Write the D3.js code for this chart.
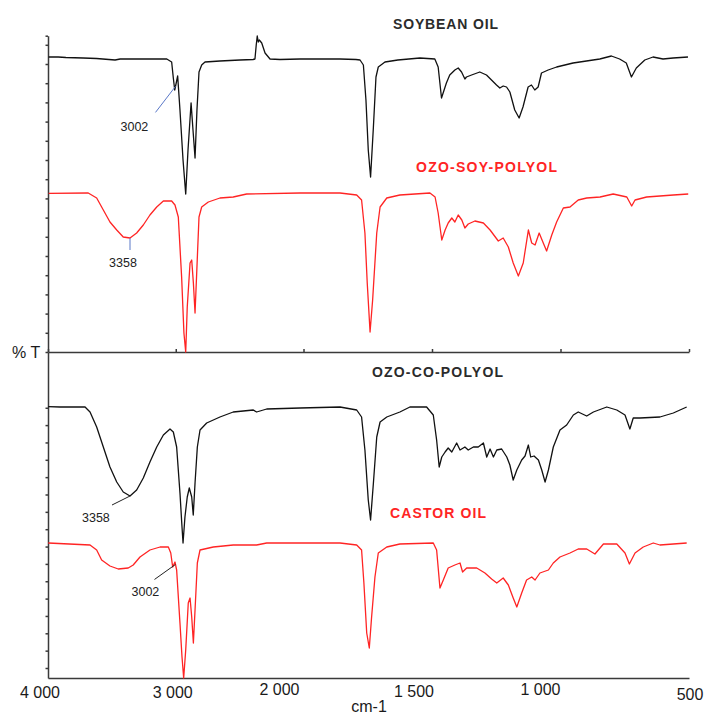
<!DOCTYPE html>
<html><head><meta charset="utf-8">
<script src="https://cdn.jsdelivr.net/npm/d3@7"></script>
<style>
body{margin:0;background:#fff}
svg{display:block;background:#fff}
text{font-family:"Liberation Sans",Arial,sans-serif}
</style>
</head><body>
<svg id="chart" width="708" height="716"></svg>
<script>
// ---------- DATA ----------
const xTickValues = [4000, 3000, 2000, 1500, 1000, 500];
const xTickLabels = ["4 000", "3 000", "2 000", "1 500", "1 000", "500"];
const xAxisTitle = "cm-1";
const yAxisTitle = "% T";
const seriesNames = ["SOYBEAN OIL", "OZO-SOY-POLYOL", "OZO-CO-POLYOL", "CASTOR OIL"];

// [wavenumber (cm-1), transmittance (a.u., offset within its panel)]
const soybeanOil = [
 [3995,295],[3920,295],[3860,294.5],[3725,294],[3620,293.5],[3475,292],[3435,293],[3070,293],
 [3032,290],[3019,274],[3008,262],[2998,268],[2985,276],[2967,242],[2943,192],[2922,158],
 [2904,202],[2880,249],[2865,222],[2849,194],[2834,242],[2818,280],[2797,287],[2771,290],
 [2654,291],[2497,292],[2395,292.5],[2380,293],[2370,307],[2362,316],[2354,310],[2346,312],
 [2327,309],[2301,299],[2262,293],[2184,292.5],[2027,293],[1858,293],[1796,292.5],[1780,292],
 [1767,287],[1757,252],[1748,202],[1739,175],[1728,225],[1718,275],[1709,285],[1683,290],
 [1633,292],[1547,294],[1489,293],[1476,285],[1463,254],[1444,269],[1431,277],[1411,282],
 [1398,284],[1385,280],[1372,273],[1366,275],[1346,277],[1314,280],[1288,277],[1249,267],
 [1236,264],[1223,266],[1210,265],[1197,260],[1178,242],[1161,234],[1146,245],[1126,265],
 [1113,267],[1100,262],[1087,265],[1074,279],[1048,282],[1015,285],[951,289],[899,291],
 [847,293],[802,296],[770,293],[744,289],[724,275],[705,284],[672,292],[640,295],[601,293],
 [562,294],[504,295]
];
const ozoSoyPolyol = [
 [3995,158.7],[3685,159],[3619,154],[3567,142],[3515,130],[3462,122],[3411,115],[3358,114],
 [3306,119],[3254,127],[3202,137],[3149,145],[3097,151],[3032,151],[3006,147],[2980,135],
 [2954,75],[2936,19],[2922,0],[2910,45],[2888,89],[2875,92],[2862,69],[2849,39],[2836,79],
 [2818,135],[2797,145],[2745,150],[2654,154],[2550,155],[2445,158],[2027,159],[1858,159],
 [1793,157],[1774,152],[1761,119],[1752,69],[1741,20],[1731,52],[1715,119],[1702,145],
 [1676,154],[1625,157],[1508,159],[1488,155],[1476,139],[1462,112],[1449,122],[1437,129],
 [1423,134],[1411,130],[1398,137],[1384,132],[1372,124],[1359,128],[1333,131],[1300,129],
 [1274,122],[1242,111],[1223,114],[1203,105],[1184,89],[1164,76],[1145,89],[1125,122],
 [1112,109],[1099,107],[1083,119],[1067,109],[1054,101],[1034,117],[1015,130],[989,144],
 [963,145],[931,152],[898,154],[846,155],[795,158],[742,155],[723,146],[710,152],[665,155],
 [561,157],[503,158]
];
const ozoCoPolyol = [
 [3998,271.3],[3906,271],[3710,271],[3671,266],[3619,251],[3567,231],[3515,211],[3462,196],
 [3411,186],[3358,182],[3306,188],[3254,200],[3202,216],[3149,231],[3097,243],[3045,249],
 [3019,246],[2993,231],[2967,185],[2953,155],[2943,135],[2928,161],[2910,181],[2894,190],
 [2875,181],[2863,163],[2849,195],[2831,231],[2810,248],[2758,255],[2654,261],[2550,266],
 [2393,268],[2367,266],[2288,269],[2027,270],[1858,271],[1793,268],[1774,261],[1761,228],
 [1748,178],[1739,158],[1728,195],[1715,241],[1702,256],[1676,261],[1625,266],[1586,271],
 [1521,271],[1495,263],[1482,238],[1472,211],[1462,221],[1449,226],[1437,230],[1423,226],
 [1404,235],[1391,228],[1372,231],[1359,228],[1339,231],[1320,231],[1300,235],[1287,221],
 [1274,229],[1261,221],[1248,228],[1229,229],[1209,221],[1197,213],[1184,198],[1170,208],
 [1151,218],[1138,222],[1125,233],[1116,221],[1103,222],[1086,218],[1073,208],[1060,196],
 [1047,208],[1028,231],[1002,248],[976,253],[950,263],[931,266],[898,262],[872,266],
 [820,271],[781,268],[749,263],[730,249],[717,260],[691,260],[613,261],[561,265],[509,271]
];
const castorOil = [
 [3998,135],[3671,133],[3619,128],[3580,118],[3515,112],[3450,109],[3372,110],[3333,113],
 [3280,121],[3202,128],[3123,131],[3058,131],[3039,125],[3024,111],[3006,116],[2993,108],
 [2967,55],[2951,21],[2938,0],[2922,28],[2902,75],[2888,80],[2875,61],[2862,35],[2849,68],
 [2831,115],[2810,128],[2706,131],[2550,133],[2367,133],[2288,135],[1858,135],[1793,133],
 [1774,128],[1765,95],[1754,45],[1744,30],[1735,61],[1722,101],[1709,125],[1676,131],
 [1625,134],[1495,135],[1482,128],[1469,90],[1456,98],[1437,110],[1411,113],[1391,115],
 [1381,106],[1365,110],[1326,110],[1294,105],[1268,99],[1248,95],[1223,100],[1203,93],
 [1184,80],[1170,71],[1151,85],[1132,98],[1112,101],[1099,98],[1080,105],[1047,108],
 [1028,115],[1002,121],[963,125],[931,129],[898,129],[866,124],[833,134],[781,134],
 [749,125],[732,114],[710,125],[678,131],[639,135],[613,133],[509,135]
];
// peak annotations: label wavenumber on a given series
const peakLabels = ["3002", "3358", "3358", "3002"];
const peakWavenumbers = [3002, 3358, 3358, 3002];

// ---------- LAYOUT / STYLE ----------
const W = 708, H = 716;
const svg = d3.select("#chart");
const x = d3.scaleLinear().domain([4000, 2000, 500]).range([48, 303.5, 689]);
const yTop = d3.scaleLinear().domain([0, 316.3]).range([352, 35.7]);
const yBot = d3.scaleLinear().domain([0, 326]).range([678, 352]);

const axisColor = "#3a3a3a";
const black = "#111111", red = "#ff2424";

// left axes
const topTicks = d3.range(0, 17).map(k => k * 19.2).concat([316.3]);
const botTicks = d3.range(0, 16).map(k => 10 + k * 17.35);
function styleAxis(g){
  g.selectAll("path,line").attr("stroke", axisColor).attr("stroke-width", 1.5);
  g.selectAll("text").remove();
}
svg.append("g").attr("transform", "translate(48,0)")
  .call(d3.axisLeft(yTop).tickValues(topTicks).tickSizeInner(2.5).tickSizeOuter(0).tickFormat(""))
  .call(styleAxis);
svg.append("g").attr("transform", "translate(48,0)")
  .call(d3.axisLeft(yBot).tickValues(botTicks).tickSizeInner(2.5).tickSizeOuter(0).tickFormat(""))
  .call(styleAxis);

// middle x axis (separator) with small ticks
svg.append("g").attr("transform", "translate(0,352)")
  .call(d3.axisBottom(x).tickValues(xTickValues).tickSizeInner(-3).tickSizeOuter(0).tickFormat(""))
  .call(styleAxis);
// bottom x axis with labels
const labelDx = [-8, -3, -24, -18, -20, 1];
const labelY = [698, 698, 695, 696.5, 695, 700];
svg.append("g").attr("transform", "translate(0,678)")
  .call(d3.axisBottom(x).tickValues(xTickValues).tickSize(0).tickFormat(""))
  .call(styleAxis);
svg.append("g").selectAll("text").data(xTickValues).join("text")
  .attr("x", (d, i) => x(d) + labelDx[i])
  .attr("y", (d, i) => labelY[i])
  .attr("text-anchor", "middle")
  .attr("font-size", 16).attr("fill", "#1a1a1a")
  .text((d, i) => xTickLabels[i]);

svg.append("text").attr("x", 369).attr("y", 712).attr("text-anchor", "middle")
  .attr("font-size", 16).attr("fill", "#1a1a1a").text(xAxisTitle);
svg.append("text").attr("x", 12).attr("y", 358)
  .attr("font-size", 16).attr("fill", "#1a1a1a").text(yAxisTitle);

// spectra
const series = [
  {data: soybeanOil, y: yTop, color: black},
  {data: ozoSoyPolyol, y: yTop, color: red},
  {data: ozoCoPolyol, y: yBot, color: black},
  {data: castorOil, y: yBot, color: red}
];
series.forEach(s => {
  const line = d3.line().x(d => x(d[0])).y(d => s.y(d[1]));
  svg.append("path").datum(s.data).attr("d", line)
    .attr("fill", "none").attr("stroke", s.color).attr("stroke-width", 1.3)
    .attr("stroke-linejoin", "round");
});

// titles
const titlePos = [[393, 28.5, 105], [416, 172, 141], [372, 377, 131], [390, 518, 96]];
const titleColors = ["#2b2b2b", red, "#2b2b2b", red];
seriesNames.forEach((n, i) => {
  svg.append("text").attr("x", titlePos[i][0]).attr("y", titlePos[i][1])
    .attr("font-size", 14).attr("font-weight", "bold").attr("fill", titleColors[i])
    .attr("textLength", titlePos[i][2]).attr("lengthAdjust", "spacing")
    .text(n);
});

// annotations
function valueAt(data, wn){
  for (let i = 0; i < data.length - 1; i++){
    const a = data[i], b = data[i+1];
    if (wn <= a[0] && wn >= b[0]){
      const t = (a[0] - wn) / (a[0] - b[0]);
      return a[1] + t * (b[1] - a[1]);
    }
  }
  return data[0][1];
}
const annStyle = [
  {line: [-20, 26], text: [-55, 45], anchor: "start", color: "#5a78c8"},
  {line: [0, 12], text: [-7, 29], anchor: "middle", color: "#5a78c8"},
  {line: [-18, 9], text: [-48, 26], anchor: "start", color: "#222"},
  {line: [-21, 15], text: [-44, 32], anchor: "start", color: "#222"}
];
peakLabels.forEach((lab, i) => {
  const s = series[i];
  const ax = x(peakWavenumbers[i]);
  const ay = s.y(valueAt(s.data, peakWavenumbers[i]));
  const st = annStyle[i];
  svg.append("line").attr("x1", ax).attr("y1", ay)
    .attr("x2", ax + st.line[0]).attr("y2", ay + st.line[1])
    .attr("stroke", st.color).attr("stroke-width", 1);
  svg.append("text").attr("x", ax + st.text[0]).attr("y", ay + st.text[1])
    .attr("text-anchor", st.anchor).attr("font-size", 12.5).attr("fill", "#222")
    .text(lab);
});
</script>
</body></html>
